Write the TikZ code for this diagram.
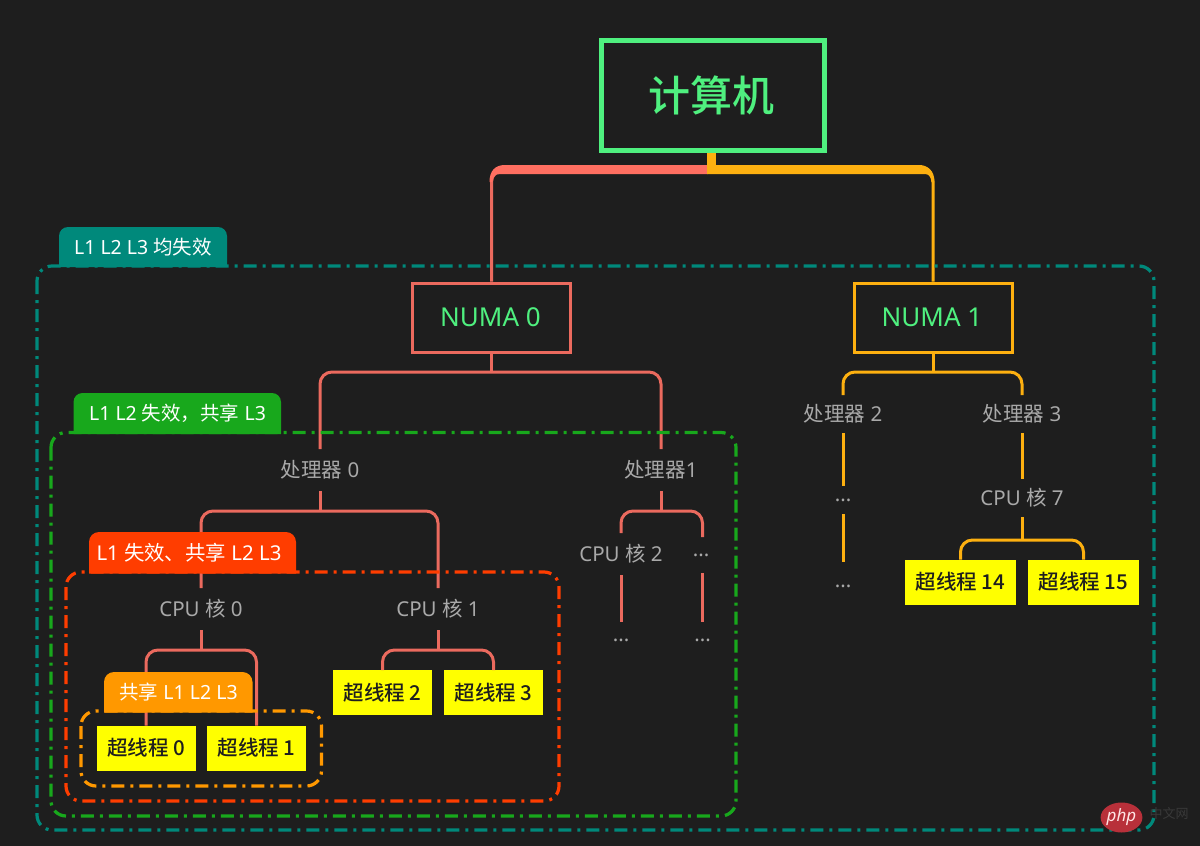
\documentclass[tikz,border=0pt]{standalone}
\usepackage{fontspec}
\usetikzlibrary{shapes.geometric}
\setmainfont{Noto Sans}
\newfontfamily\cjkf{Noto Sans CJK SC}
\newfontfamily\cjkm{Noto Sans CJK SC Medium}
\newcommand{\zh}[1]{{\cjkf #1}}
\definecolor{bgc}{HTML}{1E1E1E}
\definecolor{redl}{HTML}{EB6A5E}
\definecolor{redh}{HTML}{FF6F61}
\definecolor{orgl}{HTML}{FDB010}
\definecolor{grn}{HTML}{4FF07F}
\definecolor{greyt}{HTML}{A9A9A9}
\definecolor{tealc}{HTML}{00897B}
\definecolor{greenc}{HTML}{18A81C}
\definecolor{redc}{HTML}{FF3D00}
\definecolor{orangec}{HTML}{FF9800}
\definecolor{yel}{HTML}{FFFF00}
\definecolor{wmred}{HTML}{B8303A}
\tikzset{
  conn/.style={line width=3pt,rounded corners=12pt},
  zone/.style={line width=3.2pt,rounded corners=15pt,dash pattern=on 13pt off 6pt on 3pt off 6pt},
  tagtext/.style={text=white,font=\fontsize{19.5}{20}\selectfont,inner sep=0pt},
  grey/.style={text=greyt,font=\fontsize{20.5}{21}\selectfont,inner sep=0pt,minimum width=40pt,minimum height=42pt,outer sep=0pt},
  thread/.style={fill=yel,text=bgc,font=\cjkm\fontsize{20.5}{21}\selectfont,inner sep=0pt,minimum width=99pt,minimum height=45pt,outer sep=0pt},
  numa/.style={line width=3pt,text=grn,font=\fontsize{26}{26}\selectfont,inner sep=0pt,minimum width=158pt,minimum height=69pt,outer sep=1.5pt},
}
\begin{document}
\begin{tikzpicture}[x=1pt,y=-1pt]
\useasboundingbox (0,0) rectangle (1200,846);
\fill[bgc] (0,0) rectangle (1200,846);

% nodes
\node[draw=grn,line width=5pt,text=grn,inner sep=0pt,minimum width=223pt,minimum height=110pt,outer sep=2.5pt,font=\cjkm\fontsize{42}{42}\selectfont] (root) at (713,95.5) {\hspace*{-4pt}计算机};
\node[numa,draw=redl] (n0) at (491.5,317.5) {\hspace*{-2pt}NUMA 0};
\node[numa,draw=orgl] (n1) at (933,317.5) {\hspace*{-2pt}NUMA 1};
\node[grey] (p0) at (320,470) {\zh{处理器} 0};
\node[grey] (p1) at (661,470) {\zh{处理器}1};
\node[grey,minimum height=38pt] (p2) at (843,414) {\zh{处理器} 2};
\node[grey,minimum height=38pt] (p3) at (1022,414) {\zh{处理器} 3};
\node[grey] (c0) at (201,609) {CPU \zh{核} 0};
\node[grey] (c1) at (438,609) {CPU \zh{核} 1};
\node[grey,minimum height=42pt] (c2) at (621,554) {CPU \zh{核} 2};
\node[grey,minimum height=36pt] (d1) at (702.5,555) {\hspace*{-3pt}...};
\node[grey,minimum height=36pt] (d2) at (621,640) {...};
\node[grey,minimum height=36pt] (d3) at (702.5,640) {...};
\node[grey,minimum height=38pt] (c7) at (1022,498) {CPU \zh{核} 7};
\node[grey,minimum height=28pt] (d4) at (843,500) {...};
\node[grey,minimum height=48pt] (d5) at (843,586) {...};
\node[thread] (t0) at (146,748) {超线程 0};
\node[thread] (t1) at (256.5,748) {超线程 1};
\node[thread] (t2) at (382.5,692.5) {超线程 2};
\node[thread] (t3) at (493.5,692.5) {超线程 3};
\node[thread,minimum width=111pt] (t14) at (960.5,582) {超线程 14};
\node[thread,minimum width=111pt] (t15) at (1083.5,582) {超线程 15};

% connectors
\coordinate (stem) at (711.5,153);
\draw[redl,conn] (n0.north) -- (n0.north |- 0,170) -- (707,170);
\draw[orgl,conn] (n1.north) -- (n1.north |- 0,170) -- (707,170);
\fill[redh] (707.5,165) -- (505,165) .. controls (495,165) and (489.5,171) .. (489.5,182) -- (492.5,182) .. controls (492.5,177) and (495,174) .. (500,174) -- (707.5,174) -- cycle;
\fill[orgl] (707,165) -- (919,165) .. controls (928,165) and (934.5,171) .. (934.5,182) -- (931.5,182) .. controls (931.5,177) and (929,174) .. (925,174) -- (707,174) -- cycle;
\draw[orgl,line width=9pt] (stem) -- (stem |- 0,166);

\draw[redl,conn] (p0.north) -- (p0.north |- 0,372) -- (p1.north |- 0,372) -- (p1.north);
\draw[redl,line width=3pt] (n0.south) -- (n0.south |- 0,372);
\draw[redl,conn] (c0.north) -- (c0.north |- 0,511) -- (c1.north |- 0,511) -- (c1.north);
\draw[redl,line width=3pt] (p0.south) -- (p0.south |- 0,511);
\draw[redl,conn] (t0.north) -- (t0.north |- 0,650) -- (t1.north |- 0,650) -- (t1.north);
\draw[redl,line width=3pt] (c0.south) -- (c0.south |- 0,650);
\draw[redl,conn] (t2.north) -- (t2.north |- 0,650) -- (t3.north |- 0,650) -- (t3.north);
\draw[redl,line width=3pt] (c1.south) -- (c1.south |- 0,650);
\draw[redl,conn] (c2.north) -- (c2.north |- 0,511) -- (d1.north |- 0,511) -- (d1.north);
\draw[redl,line width=3pt] (p1.south) -- (p1.south |- 0,511);
\draw[redl,line width=3pt] (c2.south) -- (d2.north);
\draw[redl,line width=3pt] (d1.south) -- (d3.north);

\draw[orgl,conn] (p2.north) -- (p2.north |- 0,372) -- (p3.north |- 0,372) -- (p3.north);
\draw[orgl,line width=3pt] (n1.south) -- (n1.south |- 0,372);
\draw[orgl,line width=3pt] (p2.south) -- (d4.north);
\draw[orgl,line width=3pt] (d4.south) -- (d5.north);
\draw[orgl,line width=3pt] (p3.south) -- (c7.north);
\draw[orgl,conn] (t14.north) -- (t14.north |- 0,540) -- (t15.north |- 0,540) -- (t15.north);
\draw[orgl,line width=3pt] (c7.south) -- (c7.south |- 0,540);

% zones
\draw[zone,tealc] (37,266) rectangle (1154,830);
\draw[zone,greenc] (51,432.5) rectangle (736,816);
\draw[zone,redc] (66,572) rectangle (559,801);
\draw[zone,orangec] (81,711) rectangle (321.5,786);

% tags
\fill[tealc] (59,267) [rounded corners=9pt] -- (59,227) -- (227,227) [sharp corners] -- (227,267) -- cycle;
\fill[greenc] (73.5,434) [rounded corners=9pt] -- (73.5,393) -- (281,393) [sharp corners] -- (281,434) -- cycle;
\fill[redc] (89,573.5) [rounded corners=10pt] -- (89,532) -- (296,532) [sharp corners] -- (296,573.5) -- cycle;
\fill[orangec] (104,712.5) [rounded corners=10pt] -- (104,672) -- (252.5,672) [sharp corners] -- (252.5,712.5) -- cycle;
\node[tagtext] (lt) at (143,247) {L1 L2 L3 \zh{均失效}};
\node[tagtext] (lg) at (177.5,413) {L1 L2 \zh{失效，共享} L3};
\node[tagtext,font=\fontsize{20.4}{21}\selectfont] (lr) at (189,553) {L1 \zh{失效、共享} L2 L3};
\node[tagtext] (lo) at (178.5,692) {\zh{共享} L1 L2 L3};

% watermark
\node[ellipse,fill=wmred,minimum width=41pt,minimum height=30pt,inner sep=0pt,text=white!90!red,font=\fontsize{17}{17}\selectfont\itshape] (wm) at (1121.5,817.5) {php};
\node[text=white!12!bgc,inner sep=0pt,font=\fontsize{13}{13}\selectfont] (wz) at (1169,813) {\zh{中文网}};
\end{tikzpicture}
\end{document}
